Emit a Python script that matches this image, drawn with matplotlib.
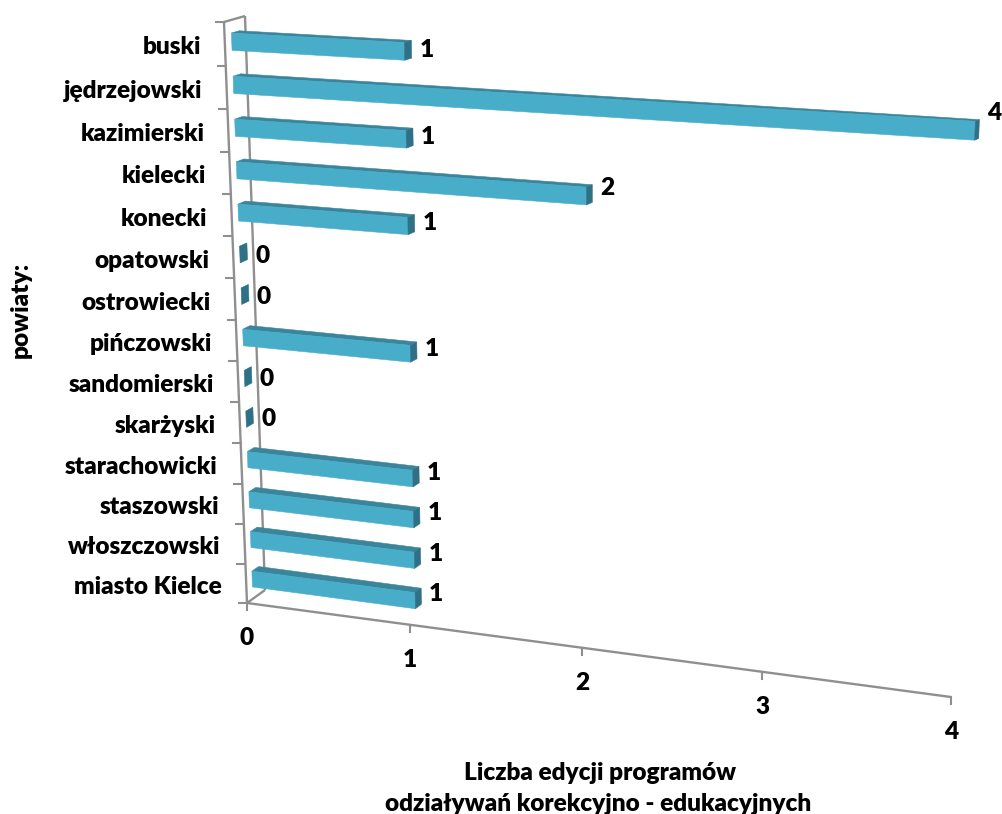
import matplotlib.pyplot as plt

powiaty = ['buski', 'jędrzejowski', 'kazimierski', 'kielecki', 'konecki', 'opatowski',
           'ostrowiecki', 'pińczowski', 'sandomierski', 'skarżyski', 'starachowicki',
           'staszowski', 'włoszczowski', 'miasto Kielce']
edycje = [1, 4, 1, 2, 1, 0, 0, 1, 0, 0, 1, 1, 1, 1]
x_ticks = [0, 1, 2, 3, 4]

# corners of the front plane in pixels, and how far the depth shifts them
TL, TR, BL, BR = (224, 22), (974, 61), (247, 603), (951, 697)
D_TL, D_TR, D_BL, D_BR = (21, -6), (11, -4), (18, -13), (10, -10)
FRONT, BACK = 0.33, 0.70
FONT = 'Lato'
FS = 17.6
WEIGHT = 'heavy'


def project(v, c, d=0.0):
    # fake 3D: value and category go through a bent bilinear map
    t = 0.226 * v + 0.006 * v * v
    s = 0.07514 * c - 0.000265 * c * c
    res = []
    for i in range(2):
        p = (TL[i] * (1 - t) + TR[i] * t) * (1 - s) + (BL[i] * (1 - t) + BR[i] * t) * s
        q = (D_TL[i] * (1 - t) + D_TR[i] * t) * (1 - s) + (D_BL[i] * (1 - t) + D_BR[i] * t) * s
        res.append(p + q * d)
    return res


def face(ax, pts, color, z):
    ax.fill([p[0] for p in pts], [p[1] for p in pts], color=color, lw=0.4, zorder=z)


fig = plt.figure(figsize=(10.03, 8.14), dpi=100)
ax = fig.add_axes([0, 0, 1, 1])
ax.set_xlim(0, 1003)
ax.set_ylim(814, 0)
ax.axis('off')

# walls
n = len(powiaty)
grey = '#8f8f8f'
for a, b in [((0, 0, 0), (0, n, 0)), ((0, 0, 1), (0, n, 1)), ((0, 0, 0), (0, 0, 1)),
             ((0, n, 0), (0, n, 1)), ((0, n, 0), (4, n, 0))]:
    p, q = project(*a), project(*b)
    ax.plot([p[0], q[0]], [p[1], q[1]], color=grey, lw=1.7, zorder=1, solid_capstyle='butt')

for c in range(n + 1):
    p = project(0, c)
    ax.plot([p[0] - 8, p[0]], [p[1], p[1]], color=grey, lw=1.5, zorder=1)

for v in x_ticks:
    p = project(v, n)
    ax.plot([p[0], p[0]], [p[1], p[1] + 7], color=grey, lw=1.5, zorder=1)
    ax.text(p[0], p[1] + 35, str(v), ha='center', va='center', fontsize=FS, fontweight=WEIGHT, family=FONT)

# bars
for i, (name, v) in enumerate(zip(powiaty, edycje)):
    c0, c1 = i + 0.3, i + 0.7
    if v > 0:
        face(ax, [project(0, c0, FRONT), project(v, c0, FRONT), project(v, c0, BACK), project(0, c0, BACK)],
             '#3a859c', 3)
        face(ax, [project(0, c0, FRONT), project(v, c0, FRONT), project(v, c1, FRONT), project(0, c1, FRONT)],
             '#48adc8', 4)
    face(ax, [project(v, c0, FRONT), project(v, c0, BACK), project(v, c1, BACK), project(v, c1, FRONT)],
         '#2f7087', 5)

    p = project(0, i + 0.5)
    ax.text(p[0] - 24, p[1] + 3.5, name, ha='right', va='center', fontsize=FS, fontweight=WEIGHT, family=FONT)
    e = project(v, i + 0.5, BACK)
    ax.text(e[0] + 15, e[1] + 6 - 5.5 * v - 3 * i / 13, str(v), ha='center', va='center',
            fontsize=FS, fontweight=WEIGHT, family=FONT)

ax.text(21, 310, 'powiaty:', rotation=90, ha='center', va='center', fontsize=FS, fontweight=WEIGHT, family=FONT)
ax.text(600, 773, 'Liczba edycji programów', ha='center', va='center', fontsize=FS, fontweight=WEIGHT, family=FONT)
ax.text(598, 804, 'odziaływań korekcyjno - edukacyjnych', ha='center', va='center', fontsize=FS,
        fontweight=WEIGHT, family=FONT)

fig.savefig('out.png', dpi=100)
